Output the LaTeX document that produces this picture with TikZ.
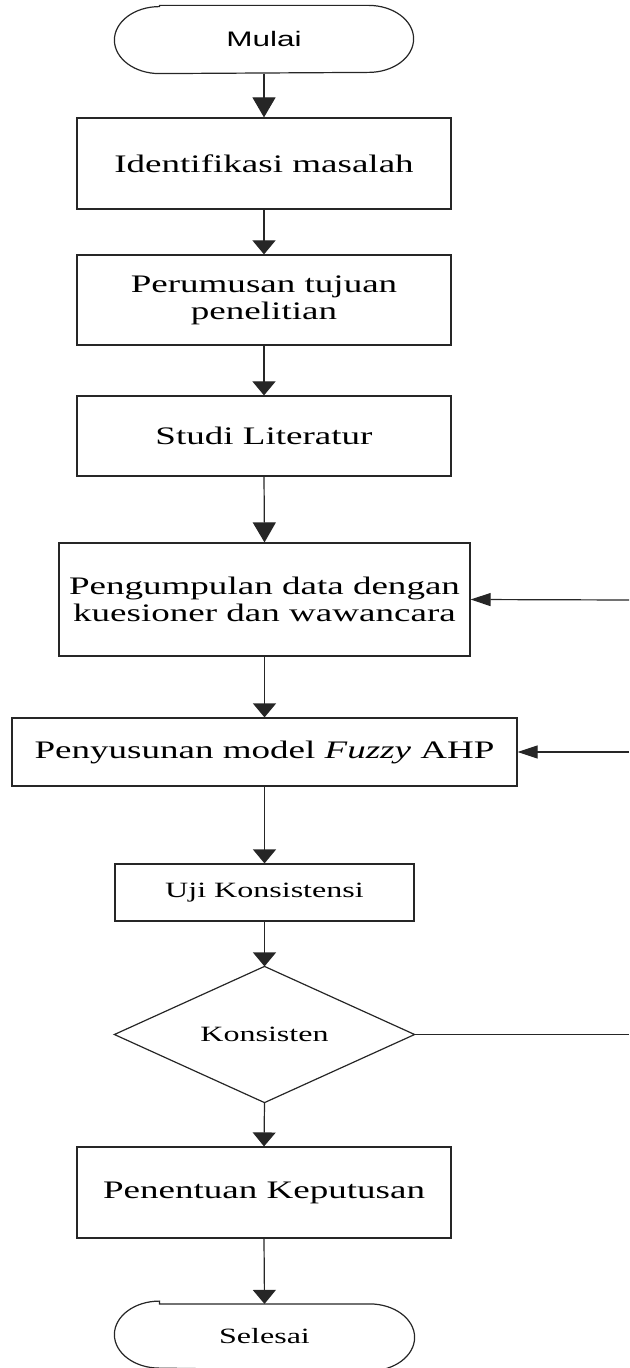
\documentclass[tikz,border=0pt]{standalone}
\usepackage{fontspec}
\setmainfont[FakeStretch=1.47]{Liberation Serif}
\newfontfamily\mysansfont[FakeStretch=1.5]{Liberation Sans}
\usetikzlibrary{arrows.meta}
\begin{document}
\begin{tikzpicture}[x=0.5pt,y=-0.5pt,
  line width=0.6pt,
  every node/.style={inner sep=0pt, align=center},
  procbox/.style={draw=black!85, rectangle, font=\fontsize{12.6}{13.5}\selectfont},
  smallbox/.style={draw=black!85, rectangle, font=\fontsize{10.9}{12}\selectfont},
  ghost/.style={draw=none, rectangle},
  flow/.style={draw=black!85, -{Triangle[length=7pt,width=11.5pt]}},
  flowlong/.style={draw=black!85, -{Triangle[length=10pt,width=11.5pt]}},
  flowleft/.style={draw=black!85, -{Triangle[length=10pt,width=6.5pt]}},
  plainline/.style={draw=black!85}
]
\useasboundingbox (0,0) rectangle (629,1368);

% terminals (invisible boxes, outline drawn below)
\node[ghost, minimum width=149pt, minimum height=33.5pt, font=\mysansfont\fontsize{10.5}{12}\selectfont] (mulai) at (264,39.5) {Mulai};
\node[ghost, minimum width=149.5pt, minimum height=31.5pt, font=\fontsize{10.9}{12}\selectfont] (selesai) at (264.5,1336) {Selesai};

\foreach \t in {mulai,selesai}{
  \draw[black!85] ([xshift=22.5pt]\t.north west) -- ([xshift=-22.5pt]\t.north east)
    arc[start angle=90,end angle=-90,x radius=22.5pt,y radius=16.75pt]
    -- ([xshift=22.5pt]\t.south west)
    arc[start angle=270,end angle=90,x radius=22.5pt,y radius=16.75pt] -- cycle;
}

\node[procbox, minimum width=187pt, minimum height=45.5pt] (ident) at (264,163.5) {Identifikasi masalah};
\node[procbox, minimum width=187pt, minimum height=45pt] (rumus) at (264,300) {Perumusan tujuan\\penelitian};
\node[procbox, minimum width=187pt, minimum height=40pt] (studi) at (264,436) {Studi Literatur};
\node[procbox, minimum width=205.5pt, minimum height=56.5pt] (kumpul) at (264.5,599.5) {Pengumpulan data dengan\\kuesioner dan wawancara};
\node[procbox, minimum width=252.5pt, minimum height=34pt] (susun) at (264.5,752) {Penyusunan model \textit{Fuzzy} AHP};
\node[smallbox, minimum width=149.5pt, minimum height=28.5pt] (uji) at (264.5,892.5) {Uji Konsistensi};
\node[ghost, minimum width=149.5pt, minimum height=67.5pt, font=\fontsize{10.9}{12}\selectfont] (kons) at (264.5,1034.5) {Konsisten};
\draw[black!85] (kons.north) -- (kons.east) -- (kons.south) -- (kons.west) -- cycle;
\node[procbox, minimum width=187pt, minimum height=45.5pt] (tentu) at (264,1192.5) {Penentuan Keputusan};

\coordinate (rk) at (629,1034.5);
\coordinate (r1) at (629,600);
\coordinate (r2) at (629,752);

\draw[flowlong] (mulai.south) -- (ident.north);
\draw[flow] (ident.south) -- (rumus.north);
\draw[flow] (rumus.south) -- (studi.north);
\draw[flowlong] (studi.south) -- (kumpul.north);
\draw[flow] (kumpul.south) -- (susun.north);
\draw[flow] (susun.south) -- (uji.north);
\draw[flow] (uji.south) -- (kons.north);
\draw[flow] (kons.south) -- (tentu.north);
\draw[flow] (tentu.south) -- (selesai.north);

\draw[plainline] (kons.east) -- (rk);
\draw[flowleft] (r1) -- (kumpul.east);
\draw[flowleft] (r2) -- (susun.east);
\end{tikzpicture}
\end{document}
